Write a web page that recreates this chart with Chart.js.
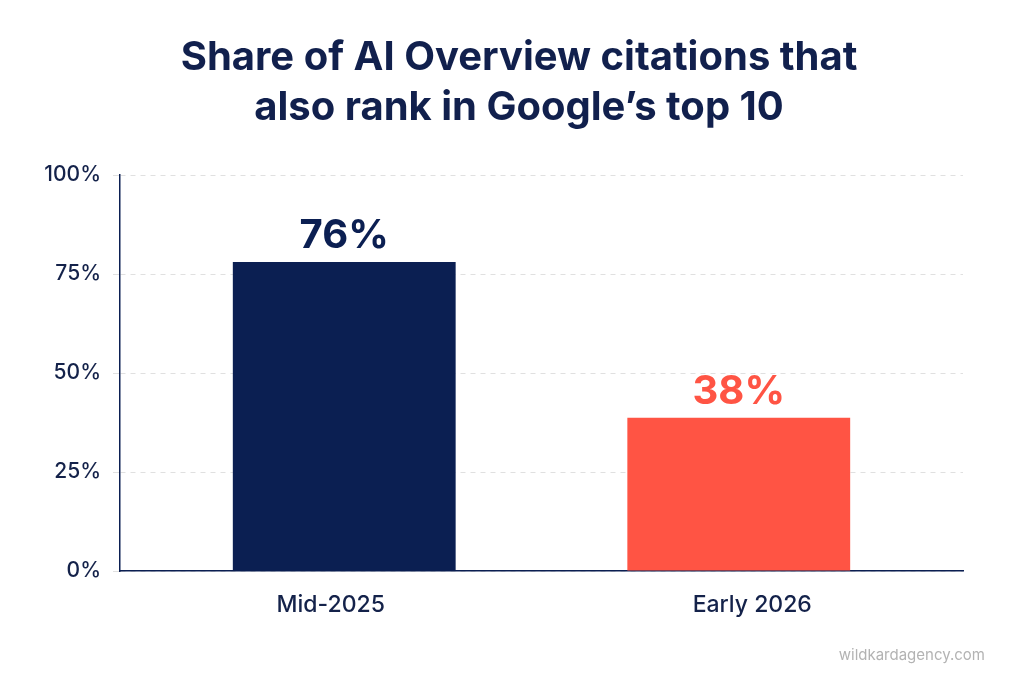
<!DOCTYPE html>
<html>
<head>
<meta charset="utf-8">
<script src="https://cdn.jsdelivr.net/npm/chart.js@4.4.1/dist/chart.umd.min.js"></script>
<style>
    html, body { margin: 0; padding: 0; background: #ffffff; }
    #wrap { width: 1024px; height: 683px; }
</style>
</head>
<body>
<div id="wrap"><canvas id="shareChart" width="1024" height="683"></canvas></div>
<script>
// Chart data
const categories = ['Mid-2025', 'Early 2026'];
const shareValues = [78, 38.7];          // bar heights as drawn
const valueLabels = ['76%', '38%'];      // labels printed above bars
const yTicks = [0, 25, 50, 75, 100];

const NAVY = '#0b1f52';
const CORAL = '#ff5444';
const barColors = [NAVY, CORAL];

// one dataset per bar so each sits in its own slot (Early first = left slot)
const datasets = categories.map((cat, i) => ({
    label: cat,
    data: categories.map((_, j) => (j === i ? shareValues[i] : null)),
    backgroundColor: barColors[i],
    borderWidth: 0,
    categoryPercentage: 0.128,
    barPercentage: 8.26
})).reverse();

// value labels above bars + watermark
const annotatePlugin = {
    id: 'annotate',
    afterDatasetsDraw(chart) {
        const ctx = chart.ctx;
        ctx.save();
        ctx.font = '700 40px Inter';
        ctx.textAlign = 'center';
        ctx.textBaseline = 'alphabetic';
        chart.data.datasets.forEach((ds, d) => {
            const i = categories.indexOf(ds.label);
            const bar = chart.getDatasetMeta(d).data[i];
            ctx.fillStyle = barColors[i];
            ctx.fillText(valueLabels[i], bar.x, bar.y - 14);
        });
        ctx.font = '400 15px Inter';
        ctx.fillStyle = '#b3b3b3';
        ctx.textAlign = 'right';
        ctx.fillText('wildkardagency.com', 985, 660);
        ctx.restore();
    }
};

const ctx = document.getElementById('shareChart').getContext('2d');
new Chart(ctx, {
    type: 'bar',
    data: {
        labels: categories,
        datasets: datasets
    },
    options: {
        responsive: false,
        animation: false,
        layout: { padding: { top: 33, left: 20, right: 6, bottom: 0 } },
        plugins: {
            legend: { display: false },
            tooltip: { enabled: false },
            title: {
                display: true,
                text: ['Share of AI Overview citations that', 'also rank in Google\u2019s top 10'],
                color: '#11204d',
                font: { family: 'Inter', size: 40, weight: '700', lineHeight: 1.25 },
                padding: { top: 0, bottom: 42 }
            }
        },
        scales: {
            x: {
                grid: { display: false },
                border: { color: NAVY, width: 1.5 },
                ticks: {
                    color: '#14224a',
                    padding: 12,
                    font: { family: 'Inter', size: 23, weight: '500' }
                },
                afterFit(scale) { scale.height = 112; }
            },
            y: {
                min: 0,
                max: 100,
                afterBuildTicks(scale) {
                    scale.ticks = yTicks.map(v => ({ value: v }));
                },
                grid: {
                    color: '#e0e0e0',
                    tickLength: 7,
                    tickColor: '#e0e0e0'
                },
                border: { color: NAVY, width: 1.5, dash: [5, 5] },
                ticks: {
                    color: '#14224a',
                    padding: 12,
                    font: { family: 'Inter', size: 21, weight: '500' },
                    callback: v => v + '%'
                },
                afterFit(scale) { scale.width = 100; }
            },
            yPad: {
                position: 'right',
                display: true,
                grid: { display: false },
                border: { display: false },
                ticks: { display: false },
                afterFit(scale) { scale.width = 55; }
            }
        }
    },
    plugins: [annotatePlugin]
});
</script>
</body>
</html>
